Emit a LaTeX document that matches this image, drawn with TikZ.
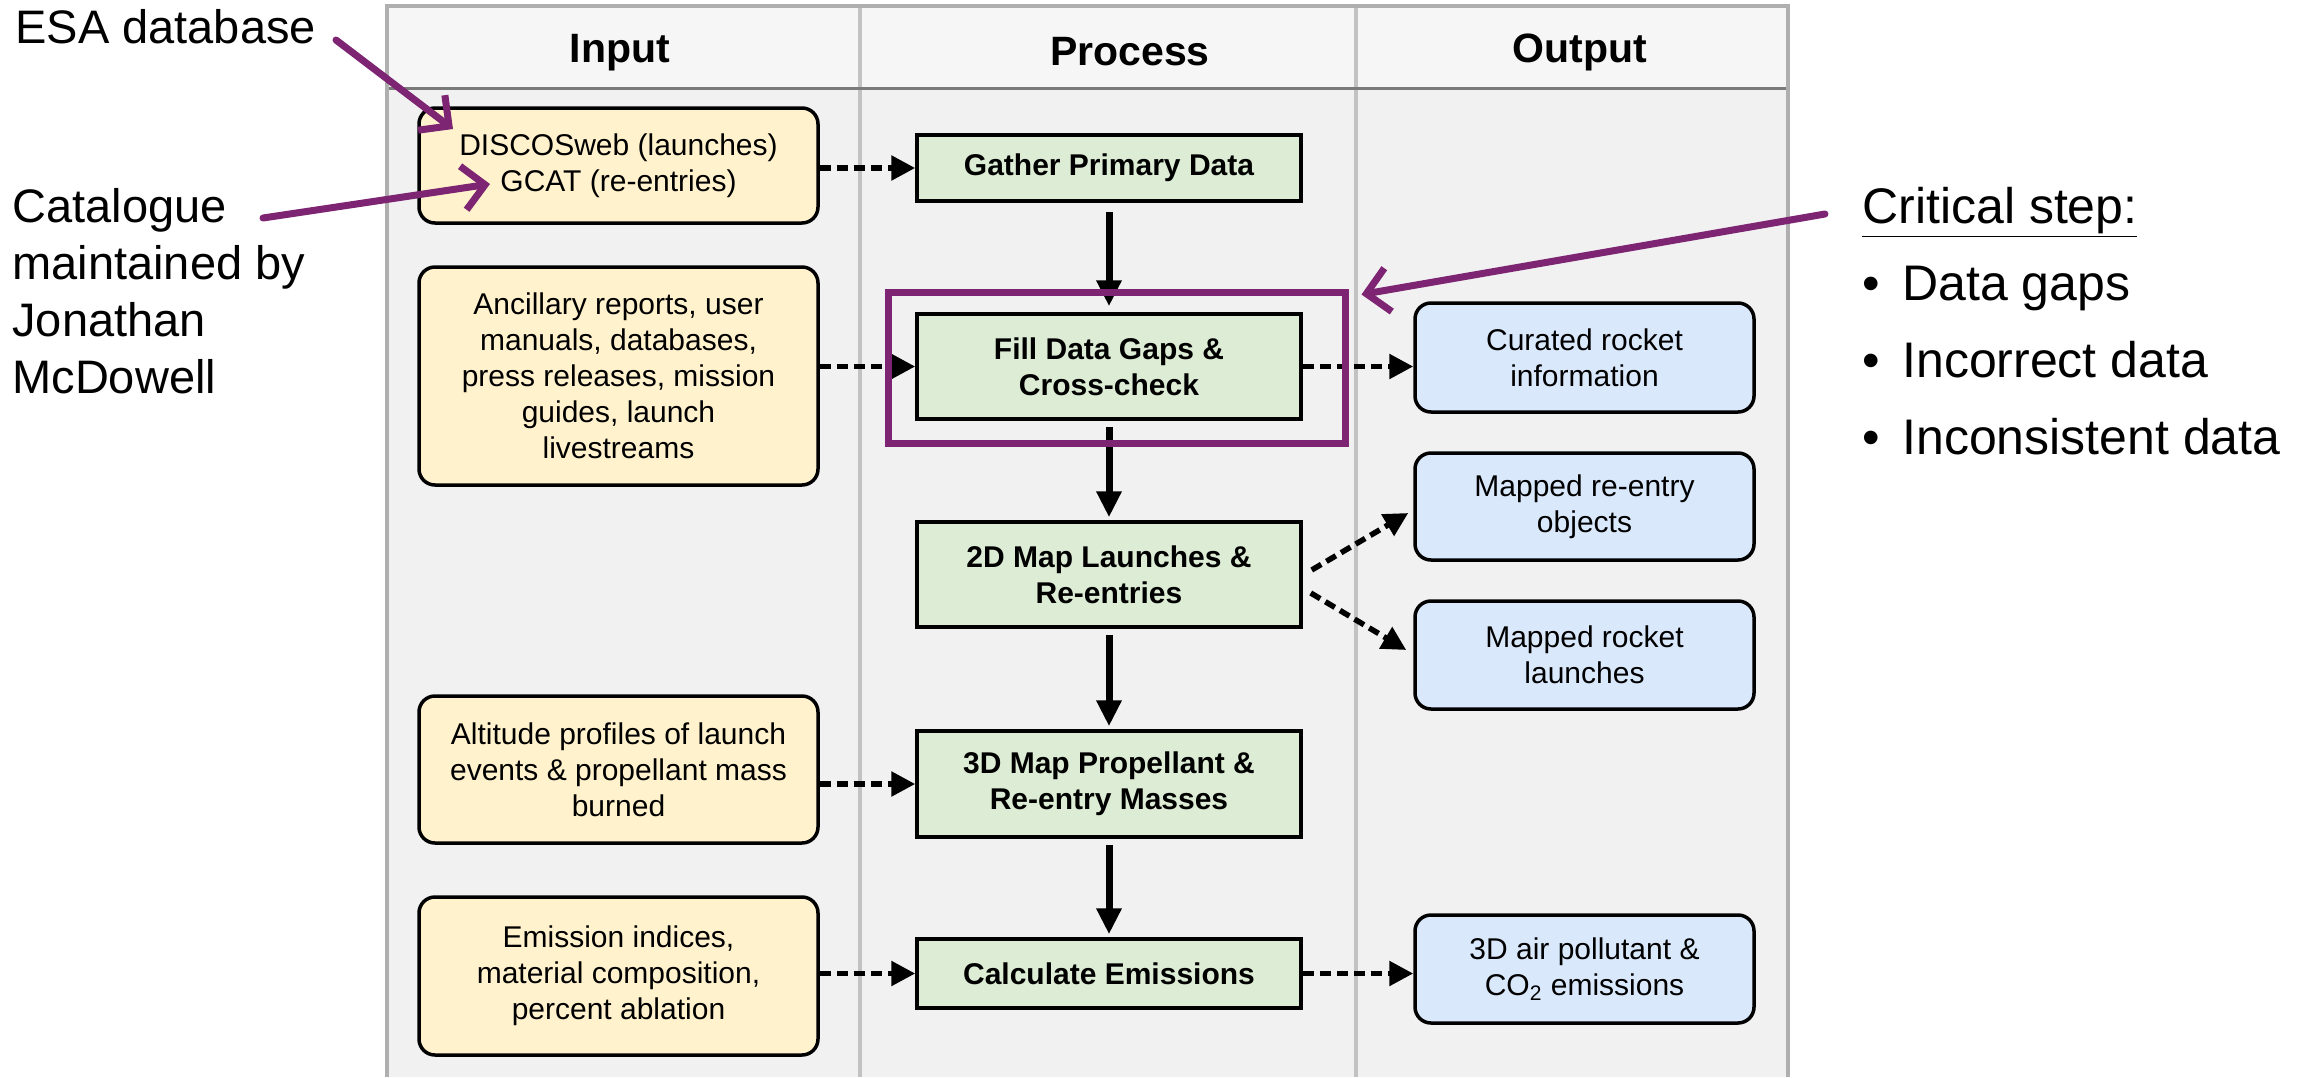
\documentclass[tikz,border=0pt]{standalone}
\usepackage{fontspec}
\setmainfont{Liberation Sans}
\usetikzlibrary{arrows.meta}

\definecolor{plum}{RGB}{125,36,114}
\definecolor{infill}{HTML}{FFF2CC}
\definecolor{procfill}{HTML}{DDEDD5}
\definecolor{outfill}{HTML}{DAE8FC}
\definecolor{lanefill}{HTML}{F1F1F1}
\definecolor{headfill}{HTML}{F6F6F6}
\definecolor{laneline}{HTML}{C2C2C2}
\definecolor{headline}{HTML}{7A7A7A}

\begin{document}
\begin{tikzpicture}[x=0.5pt, y=-0.5pt,
  boxtext/.style={font=\fontsize{15}{18}\selectfont, align=center, inner sep=0pt,
                  line width=1.75pt, draw=black},
  inbox/.style={boxtext, fill=infill, rounded corners=8pt, minimum width=199.5pt},
  procbox/.style={boxtext, fill=procfill, minimum width=192pt,
                  font=\fontsize{15}{18}\selectfont\bfseries},
  outbox/.style={boxtext, fill=outfill, rounded corners=8pt, minimum width=169.5pt},
  lanehead/.style={font=\fontsize{20.5}{24}\selectfont\bfseries, anchor=base, inner sep=0pt},
  flow/.style={line width=3.5pt, -{Triangle[length=13pt,width=12pt]}},
  feed/.style={line width=2.75pt, dash pattern=on 5.5pt off 3pt,
               -{Triangle[length=12pt,width=12pt]}},
  callout/.style={draw=plum, line width=3.5pt, line cap=round, line join=round,
                  -{Straight Barb[length=11pt,width=22pt]}},
  note/.style={inner sep=0pt, align=left, anchor=north west}
]
\useasboundingbox (0,0) rectangle (2298,1077);

% swimlane table
\fill[lanefill] (387,88) rectangle (1788,1077);
\fill[headfill] (387,6) rectangle (1788,88);
\draw[laneline, line width=2pt] (860,6) -- (860,1077);
\draw[laneline, line width=2pt] (1356,6) -- (1356,1077);
\draw[headline, line width=1.5pt] (387,88) -- (1788,88);
\draw[laneline!90!black, line width=2pt] (387,1077) -- (387,6) -- (1788,6) -- (1788,1077);

\node[lanehead] (hin)  at (620,62)  {Input};
\node[lanehead] (hpro) at (1130,65) {Process};
\node[lanehead] (hout) at (1580,62) {Output};

% inputs
\node[inbox, minimum height=57.5pt] (inp1) at (618.5,165.5)
  {DISCOSweb (launches)\\GCAT (re-entries)};
\node[inbox, minimum height=109pt] (inp2) at (618.5,376)
  {Ancillary reports, user\\manuals, databases,\\press releases, mission\\guides, launch\\livestreams};
\node[inbox, minimum height=73.5pt] (inp3) at (618.5,769.5)
  {Altitude profiles of launch\\events \& propellant mass\\burned};
\node[inbox, minimum height=79pt] (inp4) at (618.5,976)
  {Emission indices,\\material composition,\\percent ablation};

% process steps
\node[procbox, minimum height=33pt] (gather) at (1109,168) {Gather Primary Data};
\node[procbox, minimum height=52.5pt] (fill) at (1109,366.5) {Fill Data Gaps \&\\Cross-check};
\node[procbox, minimum height=52.5pt] (map2d) at (1109,574.5) {2D Map Launches \&\\Re-entries};
\node[procbox, minimum height=53pt] (map3d) at (1109,784) {3D Map Propellant \&\\Re-entry Masses};
\node[procbox, minimum height=34.5pt] (calc) at (1109,973.5) {Calculate Emissions};

% outputs
\node[outbox, minimum height=54.5pt] (cur) at (1584.5,357.5) {Curated rocket\\information};
\node[outbox, minimum height=53.5pt] (reent) at (1584.5,506.5) {Mapped re-entry\\objects};
\node[outbox, minimum height=54pt] (launch) at (1584.5,655) {Mapped rocket\\launches};
\node[outbox, minimum height=54pt] (air) at (1584.5,969) {3D air pollutant \&\\CO\textsubscript{2} emissions};

% main flow
\draw[flow] ([yshift=-4.5pt]gather.south) -- ([yshift=3pt]fill.north);
\draw[flow] ([yshift=-3pt]fill.south) -- ([yshift=1.5pt]map2d.north);
\draw[flow] ([yshift=-3pt]map2d.south) -- ([yshift=1.5pt]map3d.north);
\draw[flow] ([yshift=-3pt]map3d.south) -- ([yshift=1.5pt]calc.north);

% data feeds
\draw[feed] (inp1.east |- gather.west) -- (gather.west);
\draw[feed] (inp2.east |- fill.west) -- (fill.west);
\draw[feed] (inp3.east |- map3d.west) -- (map3d.west);
\draw[feed] (inp4.east |- calc.west) -- (calc.west);
\draw[feed] (fill.east) -- (fill.east -| cur.west);
\draw[feed] ([xshift=4.5pt,yshift=2.25pt]map2d.east) -- ([xshift=-2.5pt,yshift=-3.25pt]reent.west);
\draw[feed] ([xshift=4pt,yshift=-9.25pt]map2d.east) -- ([xshift=-3.5pt,yshift=2.5pt]launch.west);
\draw[feed] (calc.east) -- (calc.east -| air.west);

% highlight of the critical step
\node[draw=plum, line width=3.5pt, minimum width=228.5pt, minimum height=75.5pt,
      inner sep=0pt] (critframe) at (1116.5,367.5) {};

% annotations
\node[inner sep=0pt, anchor=base west, font=\fontsize{23.5}{28.5}\selectfont]
  (esa) at (15,43) {ESA database};
\node[note, font=\fontsize{23.5}{28.5}\selectfont] (cat) at (12,188)
  {Catalogue\\maintained by\\Jonathan\\McDowell};
\node[note, font=\fontsize{25}{38.5}\selectfont] (crit) at (1862,187)
  {\underline{Critical step:}\\
   \makebox[20pt][l]{\textbullet}Data gaps\\
   \makebox[20pt][l]{\textbullet}Incorrect data\\
   \makebox[20pt][l]{\textbullet}Inconsistent data};

\coordinate (esaS) at (336,40);
\coordinate (esaT) at (453,129);
\coordinate (catS) at (263,218);
\coordinate (catT) at (490,184);
\coordinate (critS) at (1825,214);
\coordinate (critT) at ([xshift=6.5pt,yshift=-3pt]critframe.north east);

\draw[callout] (esaS) -- (esaT);
\draw[callout] (catS) -- (catT);
\draw[callout] (critS) -- (critT);
\end{tikzpicture}
\end{document}
